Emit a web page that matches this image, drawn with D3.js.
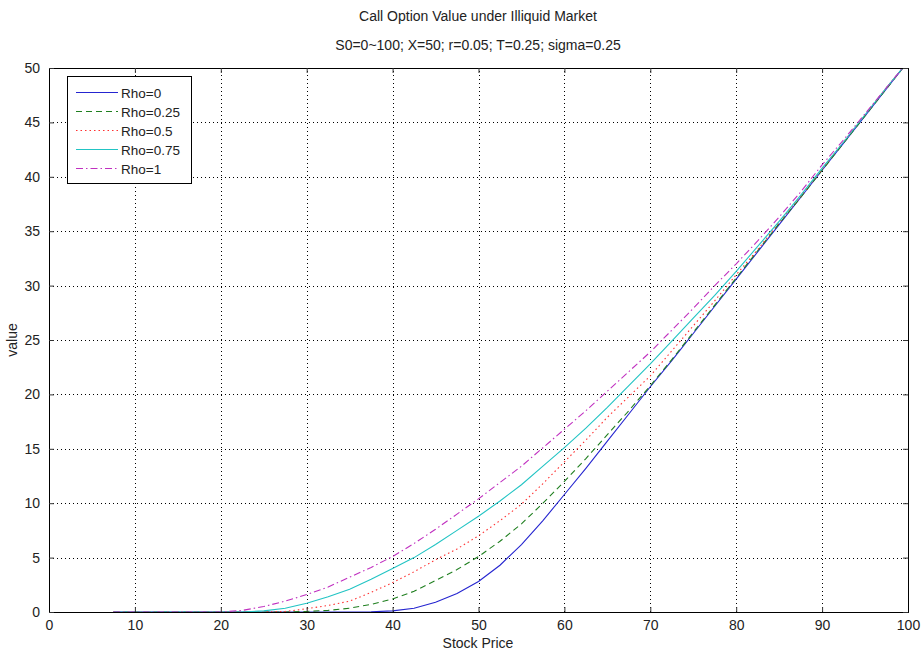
<!DOCTYPE html>
<html>
<head>
<meta charset="utf-8">
<script src="https://cdn.jsdelivr.net/npm/d3@7"></script>
<style>
  body { margin: 0; background: #fff; }
  text { font-family: "Liberation Sans", Arial, sans-serif; fill: #222; }
</style>
</head>
<body>
<div id="chart"></div>
<script>
// ########## DATA ##########
const stockPrice = [7.5, 10, 12.5, 15, 17.5, 20, 22.5, 25, 27.5, 30, 32.5, 35, 37.5, 40, 42.5, 45, 47.5, 50,
  52.5, 55, 57.5, 60, 62.5, 65, 67.5, 70, 72.5, 75, 77.5, 80, 82.5, 85, 87.5, 90, 92.5, 95, 97.5, 100];

const rho0 = [0, 0, 0, 0, 0, 0, 0, 0, 0, 0, 0, 0, 0.02, 0.1, 0.35, 0.9, 1.7, 2.8,
  4.3, 6.2, 8.4, 10.8, 13.2, 15.7, 18.2, 20.7, 23.1, 25.6, 28.1, 30.6, 33.1, 35.6, 38.1, 40.6, 43.1, 45.6, 48.1, 50.6];
const rho025 = [0, 0, 0, 0, 0, 0, 0, 0, 0, 0.05, 0.15, 0.35, 0.7, 1.2, 1.9, 2.9, 3.9, 5.1,
  6.5, 8.1, 10.0, 12.0, 14.1, 16.3, 18.5, 20.8, 23.2, 25.7, 28.2, 30.7, 33.2, 35.7, 38.1, 40.6, 43.1, 45.6, 48.1, 50.6];
const rho05 = [0, 0, 0, 0, 0, 0, 0, 0, 0.05, 0.3, 0.6, 1.0, 1.8, 2.7, 3.7, 4.8, 5.8, 7.0,
  8.4, 9.9, 11.8, 13.8, 15.8, 17.9, 19.8, 21.7, 24.0, 26.3, 28.6, 31.0, 33.3, 35.8, 38.2, 40.7, 43.2, 45.7, 48.2, 50.6];
const rho075 = [0, 0, 0, 0, 0, 0, 0, 0.1, 0.35, 0.8, 1.4, 2.1, 3.0, 4.0, 5.0, 6.2, 7.5, 8.8,
  10.2, 11.7, 13.4, 15.1, 16.9, 18.8, 20.8, 22.8, 24.9, 27.0, 29.1, 31.3, 33.6, 35.9, 38.3, 40.8, 43.2, 45.7, 48.2, 50.6];
const rho1 = [0, 0, 0, 0, 0, 0, 0.15, 0.5, 1.0, 1.6, 2.3, 3.2, 4.1, 5.1, 6.3, 7.6, 9.0, 10.4,
  11.9, 13.4, 15.1, 16.8, 18.5, 20.3, 22.1, 23.9, 25.9, 27.9, 30.0, 32.0, 34.1, 36.3, 38.6, 41.1, 43.4, 45.8, 48.2, 50.6];

const seriesNames = ["Rho=0", "Rho=0.25", "Rho=0.5", "Rho=0.75", "Rho=1"];
const seriesValues = [rho0, rho025, rho05, rho075, rho1];
const xTicks = [0, 10, 20, 30, 40, 50, 60, 70, 80, 90, 100];
const yTicks = [0, 5, 10, 15, 20, 25, 30, 35, 40, 45, 50];

// line styles like matlab b-, g--, r:, c-, m-.
const colors = ["#2525d0", "#1f7f1f", "#ff3030", "#22c4c4", "#c030c0"];
const dashes = [null, "6,4", "1.5,3", null, "7,3,1.5,3"];

// ########## LAYOUT ##########
const width = 922, height = 655;
const margin = { left: 49, right: 14, top: 68, bottom: 43 };

const svg = d3.select("#chart").append("svg")
  .attr("width", width).attr("height", height);

const x = d3.scaleLinear().domain([0, 100]).range([margin.left, width - margin.right]);
const y = d3.scaleLinear().domain([0, 50]).range([height - margin.bottom, margin.top]);

// titles
svg.append("text").attr("x", 478).attr("y", 21).attr("text-anchor", "middle")
  .style("font-size", "14px").text("Call Option Value under Illiquid Market");
svg.append("text").attr("x", 478).attr("y", 50).attr("text-anchor", "middle")
  .style("font-size", "14px").text("S0=0~100; X=50; r=0.05; T=0.25; sigma=0.25");

// grid
const grid = svg.append("g").attr("stroke", "#000").attr("stroke-width", 1)
  .attr("stroke-dasharray", "1,3");
grid.selectAll(".gx").data(xTicks.slice(1, -1)).enter().append("line")
  .attr("x1", d => Math.round(x(d)) + 0.5).attr("x2", d => Math.round(x(d)) + 0.5)
  .attr("y1", y(0)).attr("y2", y(50));
grid.selectAll(".gy").data(yTicks.slice(1, -1)).enter().append("line")
  .attr("y1", d => Math.round(y(d)) + 0.5).attr("y2", d => Math.round(y(d)) + 0.5)
  .attr("x1", x(0)).attr("x2", x(100));

// curves
svg.append("clipPath").attr("id", "plotclip").append("rect")
  .attr("x", x(0)).attr("y", y(50)).attr("width", x(100) - x(0)).attr("height", y(0) - y(50));

const line = d3.line().x((d, i) => x(stockPrice[i])).y(d => y(d));
svg.append("g").attr("clip-path", "url(#plotclip)")
  .selectAll("path").data(seriesValues).enter().append("path")
  .attr("d", d => line(d))
  .attr("fill", "none")
  .attr("stroke", (d, i) => colors[i])
  .attr("stroke-width", 1.1)
  .attr("stroke-dasharray", (d, i) => dashes[i]);

// axes (ticks inside, on all sides)
const fmt = d3.format("d");
const axB = svg.append("g").attr("transform", `translate(0,${y(0)})`)
  .call(d3.axisBottom(x).tickValues(xTicks).tickSize(-5).tickPadding(8).tickFormat(fmt));
const axT = svg.append("g").attr("transform", `translate(0,${y(50)})`)
  .call(d3.axisTop(x).tickValues(xTicks).tickSize(-5).tickFormat(""));
const axL = svg.append("g").attr("transform", `translate(${x(0)},0)`)
  .call(d3.axisLeft(y).tickValues(yTicks).tickSize(-5).tickPadding(9).tickFormat(fmt));
const axR = svg.append("g").attr("transform", `translate(${x(100)},0)`)
  .call(d3.axisRight(y).tickValues(yTicks).tickSize(-5).tickFormat(""));
[axB, axT, axL, axR].forEach(a => {
  a.select(".domain").attr("stroke", "#000");
  a.selectAll(".tick line").attr("stroke", "#333");
  a.selectAll("text").style("font-size", "14px").attr("fill", "#222")
    .style("font-family", "'Liberation Sans', Arial, sans-serif");
});

// axis labels
svg.append("text").attr("x", 478).attr("y", 648).attr("text-anchor", "middle")
  .style("font-size", "14px").text("Stock Price");
svg.append("text").attr("transform", "translate(17,340) rotate(-90)")
  .attr("text-anchor", "middle").style("font-size", "14px").text("value");

// legend
const legend = svg.append("g");
legend.append("rect").attr("x", 67.5).attr("y", 76.5).attr("width", 124).attr("height", 107)
  .attr("fill", "#fff").attr("stroke", "#000");
const rows = legend.selectAll(".row").data(seriesNames).enter().append("g")
  .attr("transform", (d, i) => `translate(0,${92 + i * 19})`);
rows.append("line").attr("x1", 76).attr("x2", 118).attr("y1", 0.5).attr("y2", 0.5)
  .attr("stroke", (d, i) => colors[i]).attr("stroke-dasharray", (d, i) => dashes[i]);
rows.append("text").attr("x", 121).attr("y", 5.5).style("font-size", "13.5px").text(d => d);
</script>
</body>
</html>
